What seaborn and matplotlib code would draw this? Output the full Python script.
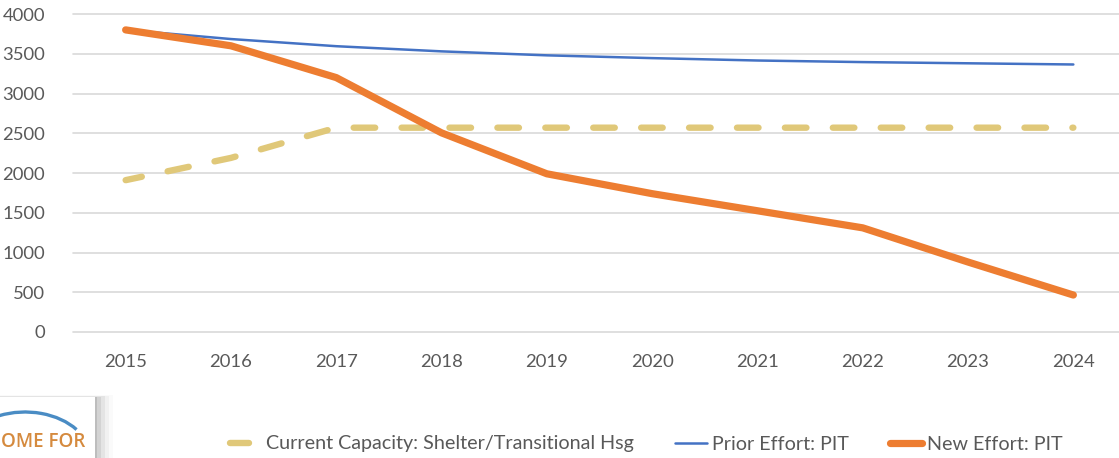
import numpy as np
import pandas as pd
import matplotlib
matplotlib.use("Agg")
import matplotlib.pyplot as plt
import seaborn as sns
from matplotlib.patches import Rectangle, Arc

years = [2015, 2016, 2017, 2018, 2019, 2020, 2021, 2022, 2023, 2024]
capacity = [1910, 2190, 2570, 2570, 2570, 2570, 2570, 2570, 2570, 2570]
prior_pit = [3800, 3685, 3595, 3530, 3480, 3445, 3415, 3395, 3380, 3365]
new_pit = [3800, 3600, 3200, 2505, 1990, 1740, 1525, 1310, 880, 465]
y_ticks = [0, 500, 1000, 1500, 2000, 2500, 3000, 3500, 4000]

labels = ["Current Capacity: Shelter/Transitional Hsg", "Prior Effort: PIT", "New Effort: PIT"]
colors = ["#E0C879", "#4472C4", "#ED7D31"]

sns.set_theme(style="white")
plt.rcParams["font.family"] = ["Lato", "DejaVu Sans"]
plt.rcParams["lines.scale_dashes"] = False

df = pd.DataFrame({"pos": np.arange(len(years)), "cap": capacity,
                   "prior": prior_pit, "new": new_pit})

fig = plt.figure(figsize=(11.19, 4.58), dpi=100)
ax = fig.add_axes([73 / 1119, 1 - 332 / 458, 1053 / 1119, 318 / 458])

sns.lineplot(data=df, x="pos", y="cap", ax=ax, color=colors[0], lw=4.6,
             label=labels[0], solid_capstyle="round", dash_capstyle="round")
ax.lines[-1].set_linestyle((3.6, (15.5, 19)))
sns.lineplot(data=df, x="pos", y="prior", ax=ax, color=colors[1], lw=1.8,
             label=labels[1], solid_capstyle="round")
sns.lineplot(data=df, x="pos", y="new", ax=ax, color=colors[2], lw=5.2,
             label=labels[2], solid_capstyle="round", solid_joinstyle="round")

ax.set_xlim(-0.5, len(years) - 0.5)
ax.set_ylim(0, 4000)
ax.set_yticks(y_ticks)
ax.set_xticks(np.arange(len(years)))
ax.set_xticklabels([str(y) for y in years])
for y in y_ticks:
    ax.axhline(y, color="#D9D9D9", lw=1.2, zorder=0, clip_on=False)
for s in ax.spines.values():
    s.set_visible(False)
ax.tick_params(axis="both", length=0, labelsize=13.3, colors="#595959")
ax.tick_params(axis="y", pad=20)
ax.tick_params(axis="x", pad=16)
ax.set_xlabel("")
ax.set_ylabel("")

leg = ax.legend(loc="center left", bbox_to_anchor=(229.5 / 1119, 1 - 444 / 458),
                bbox_transform=fig.transFigure, ncol=3, frameon=False,
                fontsize=14.2, handlelength=1.6, handletextpad=0.25,
                columnspacing=2.1, labelcolor="#595959", borderpad=0,
                borderaxespad=0)
for h in leg.get_lines():
    h.set_linestyle("-")
    h.set_solid_capstyle("round")
# the dashed series shows one short dash in the legend
gold = leg.get_lines()[0]
xd = np.asarray(gold.get_xdata(), dtype=float)
gold.set_xdata([xd[0], xd[0] + 0.62 * (xd[-1] - xd[0])])
gold.set_ydata([gold.get_ydata()[0]] * 2)

# partial logo in the lower-left corner
for i, a in enumerate([0.10, 0.07, 0.05, 0.035, 0.02]):
    fig.patches.append(Rectangle((0, 0), (97 + 4 * i) / 1119, (61 + 0.5 * i) / 458,
                                 transform=fig.transFigure, color="black",
                                 alpha=a, lw=0, zorder=1))
logo = fig.add_axes([0, 0, 95 / 1119, 61 / 458], zorder=5)
logo.set_xlim(0, 95)
logo.set_ylim(61, 0)
logo.axis("off")
logo.add_patch(Rectangle((0, 0), 95, 61, color="white", lw=0))
logo.add_patch(Arc((25, 60), 130, 90, theta1=238, theta2=332, color="#4A8CC4", lw=2.4))
logo.text(1, 45, "OME FOR", color="#D58A3E", fontsize=13.5, fontweight="semibold",
          va="center", ha="left", family=["Open Sans", "DejaVu Sans"])

fig.savefig("out.png", dpi=100)
